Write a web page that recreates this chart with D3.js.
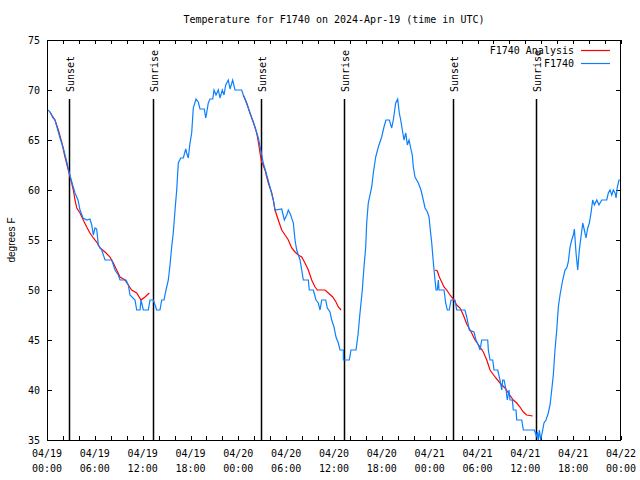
<!DOCTYPE html>
<html><head><meta charset="utf-8">
<script src="https://cdn.jsdelivr.net/npm/d3@7"></script>
<style>body{margin:0;background:#fff}svg{display:block}</style>
</head><body><svg id="c" width="640" height="480"></svg>
<script>
const title = "Temperature for F1740 on 2024-Apr-19 (time in UTC)";
const yLabel = "degrees F";
const seriesNames = ["F1740 Analysis", "F1740"];
const seriesColors = ["#ff0000", "#0a7fff"];
const yTicks = [35, 40, 45, 50, 55, 60, 65, 70, 75];
const xTickHours = [0, 6, 12, 18, 24, 30, 36, 42, 48, 54, 60, 66, 72];
const xTickDates = ["04/19","04/19","04/19","04/19","04/20","04/20","04/20","04/20","04/21","04/21","04/21","04/21","04/22"];
const xTickTimes = ["00:00","06:00","12:00","18:00","00:00","06:00","12:00","18:00","00:00","06:00","12:00","18:00","00:00"];
const sunLabels = ["Sunset", "Sunrise", "Sunset", "Sunrise", "Sunset", "Sunrise"];
const sunHours = [2.80, 13.33, 26.84, 37.29, 50.97, 61.38];

// [hours since 2024-04-19 00:00 UTC, degrees F]
const f1740 = [[0.13,68],[0.38,67.8],[0.75,67.2],[1.00,67],[1.25,66.3],[1.63,65.2],[2.01,64.3],[2.26,63.5],[2.51,62.7],[2.76,61.8],[3.14,60.7],[3.51,59.7],[3.89,59],[4.14,58],[4.52,57.2],[5.02,57],[5.39,57.1],[5.61,56.5],[5.81,55.5],[6.02,56.2],[6.23,56.1],[6.44,54.5],[6.86,54],[7.28,53],[8.12,53],[8.53,52],[8.94,51.5],[9.16,51],[9.91,51],[10.20,50.5],[10.41,49.5],[11.04,49],[11.25,48],[11.67,48],[11.79,49],[12.08,48],[12.71,48],[12.92,49],[13.33,49],[13.55,48.5],[13.76,48],[14.17,48],[14.39,49],[14.68,49],[14.93,50],[15.22,51],[15.43,52.5],[15.64,54.3],[15.84,55.7],[16.06,58],[16.27,60],[16.47,62.7],[16.77,63.2],[17.10,63.2],[17.40,64.1],[17.52,63.7],[17.72,63.2],[17.94,64.7],[18.15,65.7],[18.35,68.2],[18.69,69.1],[18.98,68.8],[19.19,68.1],[19.73,68.1],[19.91,67.2],[20.03,67.7],[20.23,68.7],[20.45,69.1],[20.79,69.1],[20.95,70],[21.20,69.5],[21.49,70],[21.70,69.2],[21.99,70],[22.20,69.5],[22.42,70.5],[22.74,71],[22.96,70.1],[23.29,71],[23.58,70],[24.42,70],[24.62,69.5],[24.84,69.1],[25.25,68.2],[25.68,67.2],[26.09,66.3],[26.51,65.2],[26.81,64],[27.13,62.7],[27.56,61.5],[27.97,60.3],[28.39,59],[28.60,58],[29.44,58.1],[29.77,57],[30.07,57.5],[30.27,58],[30.57,57.5],[30.90,56.7],[31.11,55],[31.32,54],[31.74,53],[31.95,52],[32.15,51],[32.78,51],[32.90,50],[33.41,50],[33.74,49],[34.03,48.7],[34.25,48],[34.46,49],[34.96,49],[35.16,48.2],[35.50,47.8],[35.71,47],[36.00,46.3],[36.25,45.3],[36.54,44.7],[36.75,44],[37.17,44],[37.18,43],[37.92,43],[38.13,44],[38.76,44],[39.01,45.5],[39.26,47.7],[39.55,50],[39.76,52.3],[39.98,54.3],[40.10,56.7],[40.30,58.7],[40.73,60.3],[40.93,61.7],[41.23,63.3],[41.56,64.3],[41.98,65.3],[42.27,66.3],[42.52,67],[42.94,67],[43.24,66.2],[43.44,67],[43.74,68.7],[43.99,69.1],[44.19,67.7],[44.37,67],[44.57,66],[44.78,65],[45.00,65.7],[45.20,64.5],[45.41,65],[45.62,64.2],[45.82,63.5],[45.95,62.3],[46.16,61.3],[46.58,60.7],[46.91,60],[47.20,59],[47.42,58.2],[47.71,57.8],[47.92,57.3],[48.04,56.3],[48.26,54.7],[48.38,53.5],[48.55,52],[48.67,51],[48.80,50],[48.96,50],[49.09,51],[49.17,50],[49.80,50],[50.01,48.7],[50.21,48],[50.46,48],[50.68,49],[51.18,49],[51.39,48],[52.43,48],[52.65,47.3],[52.97,46],[53.56,45.8],[53.81,45],[54.10,44.5],[54.32,44],[54.53,45],[55.28,45],[55.36,44],[55.57,43],[55.91,43],[56.07,42],[56.54,42],[56.82,41],[57.04,40],[57.16,41],[57.33,41],[57.58,40],[57.74,39],[57.95,40],[58.08,39],[58.37,39],[58.49,38],[58.83,38],[58.92,37],[59.55,37],[59.75,36],[61.13,36],[61.43,35.3],[61.50,35.8],[61.63,35],[61.76,36],[61.93,35],[62.18,36],[62.34,36.7],[62.59,37],[62.88,37.7],[63.10,38.5],[63.31,40],[63.51,41.5],[63.72,44],[63.94,46],[64.14,48.3],[64.35,49.5],[64.69,51],[64.98,52],[65.19,52.2],[65.39,52.8],[65.61,54.3],[65.82,55],[66.02,55.5],[66.15,56.1],[66.36,53.7],[66.57,52],[66.77,54],[66.98,55.3],[67.20,56.7],[67.40,56],[67.61,55.2],[67.83,56.2],[68.03,56.7],[68.24,57.7],[68.45,59],[68.66,58.5],[68.96,59],[69.24,58.5],[69.58,59],[70.21,59],[70.41,59.7],[70.62,60],[70.84,59.5],[71.04,60],[71.25,59.7],[71.38,59.2],[71.54,60.3],[71.75,61],[71.88,61]];

const analysisNight1 = [[0.38,67.8],[0.59,67.5],[1.00,67],[1.42,66],[1.84,64.8],[2.26,63.3],[2.67,62],[3.10,60.7],[3.30,60],[3.51,59],[3.73,58.2],[4.14,57.7],[4.55,57],[4.98,56.3],[5.39,55.7],[5.81,55.2],[6.23,54.8],[6.65,54.2],[7.28,53.8],[7.90,53.3],[8.32,52.7],[8.74,52],[9.16,51.3],[9.78,51],[10.20,50.5],[10.62,50],[11.25,49.7],[11.79,49],[12.29,49.3],[12.83,49.7]];
const analysisNight2 = [[24.62,69.5],[25.05,68.7],[25.46,67.7],[25.88,66.8],[26.30,65.7],[26.51,64.8],[26.72,63.7],[26.93,62.8],[27.35,62],[27.76,60.7],[28.19,59.7],[28.39,59],[28.60,58],[29.01,57],[29.44,56],[29.86,55.5],[30.27,55],[30.70,54.2],[31.11,53.8],[31.52,53.5],[31.95,53.3],[32.36,52.7],[32.78,52],[33.20,51],[33.62,50.3],[33.91,50],[34.87,50],[35.29,49.7],[35.84,49.3],[36.25,48.8],[36.54,48.3],[36.88,48]];
const analysisNight3 = [[48.67,52],[48.96,51.9],[49.21,51.3],[49.51,50.8],[49.80,50.3],[50.14,50],[50.55,49.5],[50.97,49.1],[51.39,48.5],[51.81,48.2],[52.22,47.5],[52.65,46.6],[53.27,45.7],[53.69,45],[54.32,44.3],[54.73,43.8],[55.16,43],[55.57,42],[56.20,41.3],[56.82,40.7],[57.45,40.2],[57.87,39.7],[58.49,39],[58.92,38.7],[59.33,38.3],[59.75,37.8],[60.17,37.5],[60.92,37.4]];

const FONT = "'DejaVu Sans Mono', monospace";
const svg = d3.select("#c");
svg.append("rect").attr("width", 640).attr("height", 480).attr("fill", "#fff");

const L = 47, R = 621, T = 40, B = 440;
const t0 = Date.UTC(2024, 3, 19);
const hr = h => new Date(t0 + h * 3600e3);
const x = d3.scaleUtc().domain([hr(0), hr(72)]).range([L, R]);
const y = d3.scaleLinear().domain([35, 75]).range([B, T]);

function styleAxis(g) {
  g.select(".domain").remove();
  g.selectAll("line").attr("stroke", "#000").attr("shape-rendering", "crispEdges");
  g.selectAll("text").attr("font-family", FONT).attr("font-size", 10).attr("fill", "#000");
}

// x ticks (every 2 h), bottom and top, pointing inward
const minorHours = d3.range(0, 73, 2);
svg.append("g").attr("transform", `translate(0,${B})`)
  .call(d3.axisBottom(x).tickValues(minorHours.map(hr)).tickSizeInner(-4).tickSizeOuter(0).tickFormat(""))
  .call(styleAxis);
svg.append("g").attr("transform", `translate(0,${T})`)
  .call(d3.axisTop(x).tickValues(minorHours.map(hr)).tickSizeInner(-4).tickSizeOuter(0).tickFormat(""))
  .call(styleAxis);

// x labels (two lines)
const xl = svg.append("g").attr("font-family", FONT).attr("font-size", 10).attr("text-anchor", "middle");
xTickHours.forEach((h, i) => {
  const t = xl.append("text").attr("x", x(hr(h))).attr("y", 457);
  t.append("tspan").attr("x", x(hr(h))).attr("y", 457).text(xTickDates[i]);
  t.append("tspan").attr("x", x(hr(h))).attr("y", 472).text(xTickTimes[i]);
});

// y ticks, left and right
svg.append("g").attr("transform", `translate(${L},0)`)
  .call(d3.axisLeft(y).tickValues(yTicks).tickSizeInner(-5).tickSizeOuter(0).tickPadding(7).tickFormat(d3.format("d")))
  .call(styleAxis);
svg.append("g").attr("transform", `translate(${R},0)`)
  .call(d3.axisRight(y).tickValues(yTicks).tickSizeInner(-5).tickSizeOuter(0).tickFormat(""))
  .call(styleAxis);

// border
svg.append("rect").attr("x", L + 0.5).attr("y", T + 0.5).attr("width", R - L - 1).attr("height", B - T)
  .attr("fill", "none").attr("stroke", "#000").attr("stroke-width", 1).attr("shape-rendering", "crispEdges");

// sunset / sunrise markers
const sunTop = B - 0.8525 * (B - T);
const sg = svg.append("g");
sunHours.forEach((h, i) => {
  const xx = Math.round(x(hr(h))) + 0.5;
  sg.append("line").attr("x1", xx).attr("x2", xx).attr("y1", sunTop).attr("y2", B)
    .attr("stroke", "#000").attr("stroke-width", 1.5);
  sg.append("text").attr("transform", `translate(${xx + 1},92) rotate(-90)`)
    .attr("text-anchor", "start").attr("dy", "0.35em")
    .attr("font-family", FONT).attr("font-size", 10).text(sunLabels[i]);
});

// data lines
const line = d3.line().x(d => x(hr(d[0]))).y(d => y(d[1]));
[analysisNight1, analysisNight2, analysisNight3].forEach(seg => {
  svg.append("path").datum(seg).attr("d", line).attr("fill", "none")
    .attr("stroke", seriesColors[0]).attr("stroke-width", 1.2);
});
svg.append("path").datum(f1740).attr("d", line).attr("fill", "none")
  .attr("stroke", seriesColors[1]).attr("stroke-width", 1.2);

// legend
const lg = svg.append("g").attr("font-family", FONT).attr("font-size", 10);
seriesNames.forEach((n, i) => {
  const yy = 50 + i * 13;
  lg.append("text").attr("x", 574).attr("y", yy).attr("dy", "0.35em").attr("text-anchor", "end").text(n);
  lg.append("line").attr("x1", 581).attr("x2", 610).attr("y1", yy + 0.5).attr("y2", yy + 0.5)
    .attr("stroke", seriesColors[i]).attr("stroke-width", 1.2);
});

// title and y label
svg.append("text").attr("x", (L + R) / 2).attr("y", 19).attr("dy", "0.35em").attr("text-anchor", "middle")
  .attr("font-family", FONT).attr("font-size", 10).text(title);
svg.append("text").attr("transform", `translate(11,${(T + B) / 2}) rotate(-90)`).attr("text-anchor", "middle")
  .attr("dy", "0.35em").attr("font-family", "'Liberation Sans', Arial, sans-serif").attr("font-size", 10).text(yLabel);
</script></body></html>
